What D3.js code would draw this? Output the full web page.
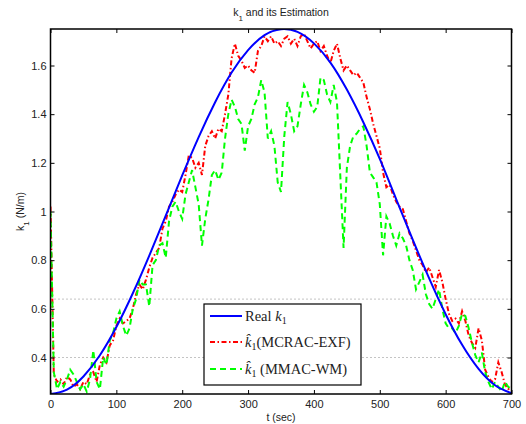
<!DOCTYPE html>
<html>
<head>
<meta charset="utf-8">
<script src="https://cdnjs.cloudflare.com/ajax/libs/d3/7.8.5/d3.min.js"></script>
<style>
  body { margin: 0; background: #fff; }
  svg { display: block; font-family: "Liberation Sans", Arial, sans-serif; }
  .tickLbl { font-size: 11px; fill: #222; }
  .legendTxt { font-family: "Liberation Serif", "Times New Roman", serif; font-size: 14.5px; fill: #222; }
</style>
</head>
<body>
<div id="chartDiv"></div>
<script>
// 1. data
// real k1, every 25 sec
const realT = [0, 25, 50, 75, 100, 125, 150, 175, 200, 225, 250, 275, 300, 325, 350,
  375, 400, 425, 450, 475, 500, 525, 550, 575, 600, 625, 650, 675, 700];
const realK = [0.250, 0.268, 0.322, 0.409, 0.525, 0.664, 0.819, 0.983, 1.148, 1.306, 1.449,
  1.571, 1.663, 1.725, 1.749, 1.738, 1.691, 1.612, 1.501, 1.367, 1.216, 1.050, 0.884,
  0.725, 0.578, 0.452, 0.353, 0.286, 0.253];

// estimates sampled every 5 sec, 0..700
const estStep = 5;
const mcracK = [
  1.02, 0.33, 0.30, 0.31, 0.29, 0.32, 0.31, 0.28, 0.29, 0.27,
  0.30, 0.29, 0.33, 0.34, 0.30, 0.37, 0.40, 0.38, 0.45, 0.47,
  0.53, 0.56, 0.54, 0.55, 0.56, 0.60, 0.66, 0.70, 0.68, 0.72,
  0.77, 0.81, 0.83, 0.85, 0.93, 0.96, 1.02, 1.04, 1.07, 1.09,
  1.08, 1.15, 1.23, 1.22, 1.18, 1.20, 1.15, 1.27, 1.31, 1.33,
  1.30, 1.34, 1.33, 1.40, 1.48, 1.63, 1.69, 1.64, 1.62, 1.59,
  1.60, 1.58, 1.57, 1.66, 1.68, 1.72, 1.70, 1.72, 1.69, 1.70,
  1.68, 1.71, 1.72, 1.69, 1.71, 1.68, 1.72, 1.73, 1.70, 1.67,
  1.69, 1.70, 1.66, 1.68, 1.64, 1.61, 1.66, 1.69, 1.63, 1.58,
  1.60, 1.58, 1.56, 1.57, 1.55, 1.53, 1.47, 1.42, 1.36, 1.31,
  1.26, 1.16, 1.10, 1.11, 1.07, 1.04, 1.02, 1.01, 0.96, 0.91,
  0.88, 0.84, 0.80, 0.78, 0.75, 0.77, 0.73, 0.69, 0.76, 0.71,
  0.64, 0.58, 0.55, 0.56, 0.54, 0.59, 0.55, 0.49, 0.46, 0.44,
  0.52, 0.47, 0.35, 0.32, 0.30, 0.31, 0.38, 0.34, 0.29, 0.27,
  0.28];
const mmacK = [
  1.00, 0.34, 0.27, 0.30, 0.28, 0.31, 0.35, 0.33, 0.30, 0.27,
  0.29, 0.26, 0.31, 0.43, 0.30, 0.27, 0.40, 0.37, 0.47, 0.50,
  0.56, 0.59, 0.53, 0.49, 0.52, 0.60, 0.64, 0.72, 0.70, 0.70,
  0.61, 0.78, 0.80, 0.86, 0.87, 0.81, 0.96, 1.02, 1.04, 1.00,
  0.97, 1.07, 1.12, 1.17, 1.10, 1.03, 0.86, 0.97, 1.05, 1.15,
  1.17, 1.13, 1.16, 1.30, 1.40, 1.46, 1.43, 1.38, 1.36, 1.25,
  1.35, 1.38, 1.44, 1.47, 1.54, 1.49, 1.30, 1.33, 1.27, 1.12,
  1.08, 1.31, 1.45, 1.40, 1.33, 1.35, 1.44, 1.52, 1.49, 1.44,
  1.41, 1.43, 1.55, 1.54, 1.48, 1.45, 1.52, 1.45, 1.15, 0.85,
  1.18, 1.27, 1.31, 1.32, 1.34, 1.35, 1.27, 1.16, 1.14, 1.12,
  1.03, 0.82, 0.98, 0.95, 0.90, 0.86, 0.91, 0.89, 0.86, 0.80,
  0.76, 0.68, 0.71, 0.74, 0.66, 0.62, 0.60, 0.64, 0.68, 0.60,
  0.54, 0.52, 0.52, 0.50, 0.53, 0.58, 0.57, 0.52, 0.46, 0.41,
  0.38, 0.42, 0.34, 0.30, 0.27, 0.30, 0.28, 0.26, 0.30, 0.28,
  0.27];

// dotted reference levels
const refLevels = [0.4, 0.64];

// tick labels
const xTicks = [0, 100, 200, 300, 400, 500, 600, 700];
const yTicks = [0.4, 0.6, 0.8, 1, 1.2, 1.4, 1.6];
const yTickLabels = ['0.4', '0.6', '0.8', '1', '1.2', '1.4', '1.6'];

// 2. settings
const s = { l: 50.5, r: 511.5, t: 29, b: 394, w: 526, h: 424 };

const xScale = d3.scaleLinear().domain([0, 700]).range([s.l, s.r]);
const yScale = d3.scaleLinear().domain([0.25, 1.75]).range([s.b, s.t]);

const svg = d3.select('#chartDiv').append('svg')
  .attr('width', s.w)
  .attr('height', s.h);

svg.append('clipPath').attr('id', 'plotClip')
  .append('rect')
  .attr('x', s.l).attr('y', s.t)
  .attr('width', s.r - s.l).attr('height', s.b - s.t);

// dotted horizontal lines
svg.selectAll('.refLine')
  .data(refLevels)
  .enter().append('line')
  .attr('class', 'refLine')
  .attr('x1', s.l).attr('x2', s.r)
  .attr('y1', d => yScale(d)).attr('y2', d => yScale(d))
  .attr('stroke', '#888')
  .attr('stroke-width', 1)
  .attr('stroke-dasharray', '1,3');

// 3. series
const toPts = arr => arr.map((v, i) => [i * estStep, v]);
const lineFn = d3.line().x(d => xScale(d[0])).y(d => yScale(d[1]));
const smoothLine = d3.line().curve(d3.curveNatural).x(d => xScale(d[0])).y(d => yScale(d[1]));

const plotG = svg.append('g').attr('clip-path', 'url(#plotClip)');

const series = [
  { pts: toPts(mcracK), color: '#ff0000', dash: '5,2.5,1.5,2.5', fn: lineFn },
  { pts: toPts(mmacK), color: '#00ff00', dash: '6,4', fn: lineFn },
  { pts: realT.map((t, i) => [t, realK[i]]), color: '#0000ff', dash: null, fn: smoothLine }
];

series.forEach(sr => {
  plotG.append('path')
    .attr('d', sr.fn(sr.pts))
    .attr('fill', 'none')
    .attr('stroke', sr.color)
    .attr('stroke-width', 2)
    .attr('stroke-dasharray', sr.dash);
});

// 4. axes, matlab style: ticks inside on every side
const axB = svg.append('g').attr('transform', `translate(0,${s.b})`)
  .call(d3.axisBottom(xScale).tickValues(xTicks).tickSizeInner(-4).tickSizeOuter(0).tickPadding(6));
const axT = svg.append('g').attr('transform', `translate(0,${s.t})`)
  .call(d3.axisTop(xScale).tickValues(xTicks).tickSizeInner(-4).tickSizeOuter(0).tickFormat(''));
const axL = svg.append('g').attr('transform', `translate(${s.l},0)`)
  .call(d3.axisLeft(yScale).tickValues(yTicks).tickSizeInner(-4).tickSizeOuter(0).tickPadding(4)
    .tickFormat((d, i) => yTickLabels[i]));
const axR = svg.append('g').attr('transform', `translate(${s.r},0)`)
  .call(d3.axisRight(yScale).tickValues(yTicks).tickSizeInner(-4).tickSizeOuter(0).tickFormat(''));

[axB, axT, axL, axR].forEach(a => {
  a.select('.domain').remove();
  a.selectAll('.tick line').attr('stroke', '#000');
  a.selectAll('text').attr('class', 'tickLbl').attr('font-size', null).attr('font-family', null);
});

svg.append('rect')
  .attr('x', s.l).attr('y', s.t)
  .attr('width', s.r - s.l).attr('height', s.b - s.t)
  .attr('fill', 'none')
  .attr('stroke', '#000')
  .attr('stroke-width', 1.5);

// 5. title + axis labels
const title = svg.append('text')
  .attr('x', (s.l + s.r) / 2).attr('y', 16)
  .attr('text-anchor', 'middle')
  .attr('font-size', 10.5).attr('fill', '#222');
title.append('tspan').text('k');
title.append('tspan').attr('baseline-shift', 'sub').attr('font-size', 8).text('1');
title.append('tspan').text(' and its Estimation');

svg.append('text')
  .attr('x', (s.l + s.r) / 2).attr('y', 421)
  .attr('text-anchor', 'middle')
  .attr('font-size', 10.5).attr('fill', '#222')
  .text('t (sec)');

const yLbl = svg.append('text')
  .attr('transform', `translate(24,${(s.t + s.b) / 2}) rotate(-90)`)
  .attr('text-anchor', 'middle')
  .attr('font-size', 10.5).attr('fill', '#222');
yLbl.append('tspan').text('k');
yLbl.append('tspan').attr('baseline-shift', 'sub').attr('font-size', 8).text('1');
yLbl.append('tspan').text(' (N/m)');

// 6. legend
const legG = svg.append('g').attr('transform', 'translate(204,304)');
legG.append('rect')
  .attr('width', 157).attr('height', 81)
  .attr('fill', '#fff').attr('stroke', '#000').attr('stroke-width', 1.2);

const legRows = [
  { pre: 'Real ', hat: false, post: '', color: '#0000ff', dash: null },
  { pre: '', hat: true, post: '(MCRAC-EXF)', color: '#ff0000', dash: '5,2.5,1.5,2.5' },
  { pre: '', hat: true, post: ' (MMAC-WM)', color: '#00ff00', dash: '6,4' }
];
const legRowY = [12, 38, 65];

legRows.forEach((r, i) => {
  const y = legRowY[i];
  legG.append('line')
    .attr('x1', 6).attr('x2', 38).attr('y1', y).attr('y2', y)
    .attr('stroke', r.color).attr('stroke-width', 2)
    .attr('stroke-dasharray', r.dash);
  const t = legG.append('text').attr('class', 'legendTxt')
    .attr('x', 41).attr('y', y + 5).attr('xml:space', 'preserve');
  if (r.pre) t.append('tspan').text(r.pre);
  t.append('tspan').attr('font-style', 'italic').text(r.hat ? 'k\u0302' : 'k');
  t.append('tspan').attr('font-size', 10).attr('dy', 3).text('1');
  t.append('tspan').attr('dy', -3).text(r.post);
});
</script>
</body>
</html>
